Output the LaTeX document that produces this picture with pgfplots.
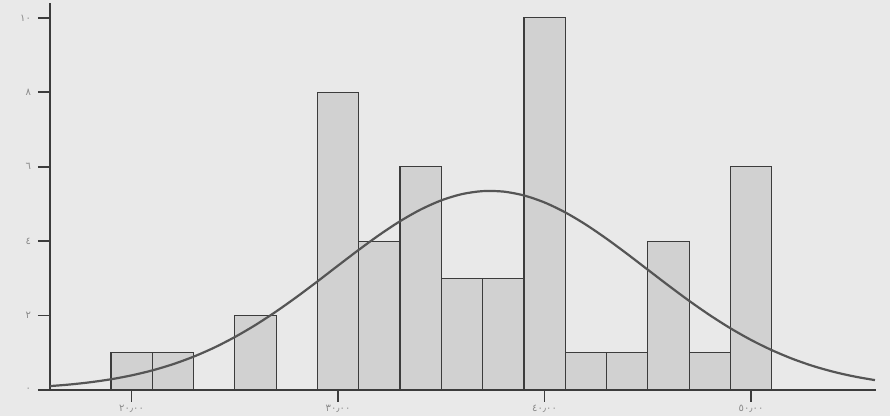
\documentclass[border=0pt]{standalone}
\usepackage{pgfplots}
\pgfplotsset{compat=1.18}
\usepackage{fontspec}
\newfontfamily\arabicfont[Script=Arabic]{DejaVu Sans}
\definecolor{bg}{HTML}{E9E9E9}
\definecolor{barfill}{HTML}{D1D1D1}
\definecolor{baredge}{HTML}{3C3C3C}
\definecolor{curve}{HTML}{555555}
\definecolor{lab}{HTML}{8A8A8A}
\begin{document}
\begin{tikzpicture}
\fill[bg] (-25pt,-13pt) rectangle (420pt,195pt);
\useasboundingbox (-25pt,-13pt) rectangle (420pt,195pt);
\begin{axis}[
  scale only axis,
  width=413pt, height=193.5pt,
  xmin=16.05, xmax=56.05,
  ymin=0, ymax=10.4,
  axis x line*=bottom, axis y line*=left,
  axis line style={draw=baredge, line width=0.8pt},
  tick align=outside,
  major tick length=6pt,
  tick style={draw=baredge, line width=0.9pt},
  xtick={20,30,40,50},
  xticklabels={\arabicfont ٢٠٫٠٠, \arabicfont ٣٠٫٠٠, \arabicfont ٤٠٫٠٠, \arabicfont ٥٠٫٠٠},
  ytick={0,2,4,6,8,10},
  yticklabels={\arabicfont ٠, \arabicfont ٢, \arabicfont ٤, \arabicfont ٦, \arabicfont ٨, \arabicfont ١٠},
  ticklabel style={font=\tiny, text=lab},
  xticklabel style={yshift=2pt},
  axis background/.style={fill=bg},
  clip=true,
]
\addplot[ybar, bar width=2, bar shift=0pt, fill=barfill, draw=baredge, line width=0.6pt]
coordinates {
(20,1) (22,1) (26,2) (30,8) (32,4) (34,6) (36,3) (38,3) (40,10)
(42,1) (44,1) (46,4) (48,1) (50,6)
};
\addplot[smooth, curve, line width=1.1pt, no markers] coordinates {
(16,0.103) (17,0.147) (18,0.208) (19,0.288) (20,0.393) (21,0.526)
(22,0.692) (23,0.895) (24,1.138) (25,1.423) (26,1.747) (27,2.109)
(28,2.502) (29,2.917) (30,3.344) (31,3.765) (32,4.168) (33,4.535)
(34,4.849) (35,5.096) (36,5.264) (37,5.344) (38,5.332) (39,5.228)
(40,5.039) (41,4.773) (42,4.444) (43,4.066) (44,3.657) (45,3.232)
(46,2.808) (47,2.397) (48,2.012) (49,1.659) (50,1.345) (51,1.072)
(52,0.839) (53,0.645) (54,0.488) (55,0.363) (56,0.265)
};
\end{axis}
\end{tikzpicture}
\end{document}
